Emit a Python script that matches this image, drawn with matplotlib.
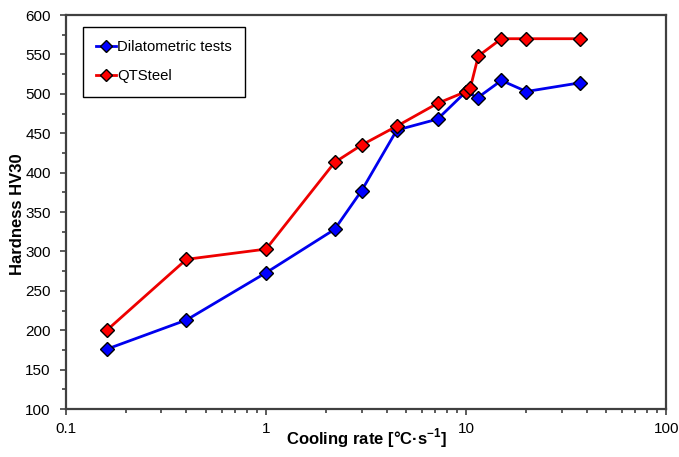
import matplotlib
matplotlib.use('Agg')
import matplotlib.pyplot as plt
from matplotlib.ticker import FuncFormatter, MultipleLocator, LogLocator

# cooling rate [°C/s] and hardness HV30
DIL_RATE = [0.16, 0.4, 1.0, 2.2, 3.0, 4.5, 7.2, 10.0, 11.4, 15.0, 20.0, 37.0]
DIL_HV = [176, 213, 273, 328, 377, 454, 468, 503, 495, 517, 503, 514]

QT_RATE = [0.16, 0.4, 1.0, 2.2, 3.0, 4.5, 7.2, 10.0, 10.5, 11.5, 15.0, 20.0, 37.0]
QT_HV = [200, 290, 303, 413, 435, 459, 488, 503, 508, 548, 570, 570, 570]

X_TICKS = [0.1, 1, 10, 100]

plt.rcParams.update({
    'font.family': ['Liberation Sans', 'DejaVu Sans'],
    'font.size': 11,
    'mathtext.fontset': 'custom',
    'mathtext.rm': 'Liberation Sans',
    'mathtext.bf': 'Liberation Sans:bold',
})

fig = plt.figure(figsize=(6.79, 4.57), dpi=100)
ax = fig.add_axes([0.0972, 0.105, 0.884, 0.862])

mk = dict(marker='D', markersize=7.5, markeredgecolor='black', markeredgewidth=1.0, linewidth=2)
ax.plot(DIL_RATE, DIL_HV, color='#0000ee', markerfacecolor='#0000ff', label='Dilatometric tests', **mk)
ax.plot(QT_RATE, QT_HV, color='#ee0000', markerfacecolor='#ff0000', label='QTSteel', **mk)

ax.set_xscale('log')
ax.set_xlim(0.1, 100)
ax.set_ylim(100, 600)
ax.set_xticks(X_TICKS)
ax.xaxis.set_major_formatter(FuncFormatter(lambda v, _: f'{v:g}'))
ax.xaxis.set_minor_locator(LogLocator(base=10, subs=range(2, 10)))
ax.yaxis.set_major_locator(MultipleLocator(50))
ax.yaxis.set_minor_locator(MultipleLocator(25))
ax.tick_params(which='major', direction='out', length=4, width=1.2, colors='#404040',
               labelcolor='black', labelsize=11)
ax.tick_params(which='minor', direction='out', length=3, width=1.2, colors='#404040')
ax.tick_params(axis='x', which='both', top=False, pad=5)
ax.tick_params(axis='y', which='both', right=False, pad=7)
for s in ax.spines.values():
    s.set_color('#404040')
    s.set_linewidth(1.6)

ax.set_xlabel(r'Cooling rate [°C·s$^{\mathbf{-1}}$]', fontsize=12, fontweight='bold')
ax.xaxis.label.set_va('baseline')
ax.xaxis.set_label_coords(0.5, -0.089)
ax.set_ylabel('Hardness HV30', fontsize=12, fontweight='bold')
ax.yaxis.label.set_va('center')
ax.yaxis.set_label_coords(-0.081, 0.495)

leg = ax.legend(loc='upper left', bbox_to_anchor=(0.028, 0.97), fontsize=10.7, frameon=True,
                fancybox=False, framealpha=1, edgecolor='black', handlelength=1.35,
                handletextpad=0.05, labelspacing=1.0, borderpad=0.9, markerscale=0.75,
                borderaxespad=0)
leg.get_frame().set_linewidth(1.0)

fig.savefig('out.png', dpi=100)
